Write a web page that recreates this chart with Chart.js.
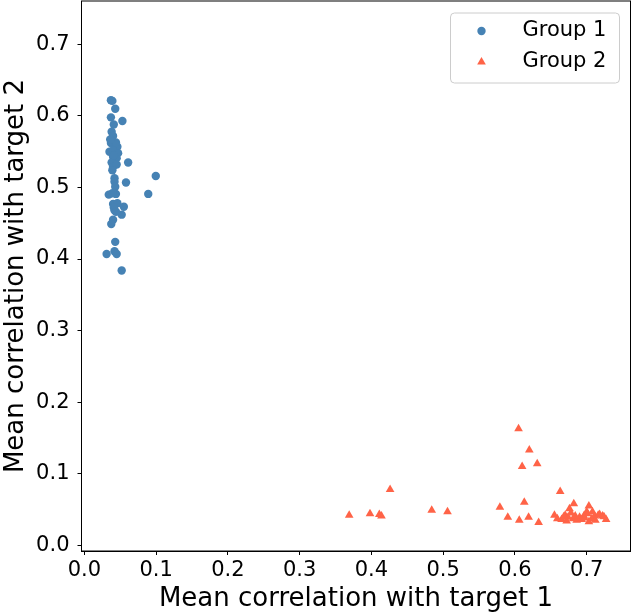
<!DOCTYPE html>
<html>
<head>
<meta charset="utf-8">
<script src="https://cdn.jsdelivr.net/npm/chart.js"></script>
<style>
  html, body { margin: 0; padding: 0; background: #fff; }
  #wrap { width: 632px; height: 615px; }
</style>
</head>
<body>
<div id="wrap"><canvas id="myChart" width="632" height="615"></canvas></div>
<script>
// series labels
var seriesNames = ['Group 1', 'Group 2'];

// Group 1 (mean correlation with target 1 / target 2)
var group1X = [0.037, 0.039, 0.043, 0.037, 0.053, 0.041, 0.038, 0.040, 0.037, 0.043,
               0.046, 0.035, 0.040, 0.040, 0.045, 0.038, 0.061, 0.040, 0.045, 0.039,
               0.042, 0.0995, 0.058, 0.042, 0.043, 0.034, 0.044, 0.089, 0.040, 0.046,
               0.055, 0.042, 0.052, 0.040, 0.0375, 0.043, 0.042, 0.031, 0.045, 0.052,
               0.047, 0.044, 0.036, 0.041, 0.039, 0.041, 0.044];
var group1Y = [0.622, 0.621, 0.610, 0.598, 0.593, 0.588, 0.578, 0.572, 0.562, 0.559,
               0.557, 0.550, 0.552, 0.543, 0.541, 0.535, 0.535, 0.529, 0.532, 0.524,
               0.513, 0.516, 0.507, 0.508, 0.501, 0.490, 0.491, 0.491, 0.477, 0.478,
               0.473, 0.468, 0.462, 0.455, 0.449, 0.424, 0.411, 0.407, 0.407, 0.384,
               0.548, 0.563, 0.567, 0.545, 0.492, 0.472, 0.466];

// Group 2
var group2X = [0.426, 0.369, 0.398, 0.411, 0.414, 0.484, 0.506,
               0.605, 0.620, 0.610, 0.631, 0.663, 0.579, 0.613, 0.590, 0.606, 0.619, 0.633, 0.655, 0.659,
               0.682, 0.676, 0.703, 0.670, 0.674, 0.665, 0.681, 0.690, 0.696, 0.701,
               0.707, 0.711, 0.716, 0.722, 0.727, 0.703, 0.686, 0.672, 0.700, 0.708,
               0.718, 0.724, 0.678, 0.693, 0.712, 0.668, 0.684, 0.697];
var group2Y = [0.078, 0.042, 0.044, 0.043, 0.041, 0.049, 0.047,
               0.163, 0.133, 0.110, 0.114, 0.075, 0.053, 0.060, 0.039, 0.035, 0.039, 0.032, 0.042, 0.037,
               0.058, 0.051, 0.055, 0.042, 0.039, 0.036, 0.037, 0.039, 0.041, 0.044,
               0.037, 0.041, 0.042, 0.041, 0.036, 0.033, 0.035, 0.034, 0.047, 0.047,
               0.043, 0.040, 0.045, 0.036, 0.035, 0.040, 0.041, 0.038];

// axis ticks
var xTicks = [0.0, 0.1, 0.2, 0.3, 0.4, 0.5, 0.6, 0.7];
var yTicks = [0.0, 0.1, 0.2, 0.3, 0.4, 0.5, 0.6, 0.7];

function toPoints(xs, ys) {
    return xs.map(function (x, i) { return { x: x, y: ys[i] }; });
}

var FONT = "'DejaVu Sans', sans-serif";

// matplotlib-like frame on all four sides
var framePlugin = {
    id: 'frame',
    afterDraw: function (chart) {
        var a = chart.chartArea, ctx = chart.ctx;
        ctx.save();
        ctx.strokeStyle = '#000';
        ctx.lineWidth = 1;
        ctx.strokeRect(a.left, a.top, a.right - a.left, a.bottom - a.top);
        ctx.restore();
    }
};

// boxed legend in the upper right corner
var legendPlugin = {
    id: 'boxLegend',
    afterDraw: function (chart) {
        var ctx = chart.ctx;
        var a = chart.chartArea;
        var w = 169, h = 70;
        var bx = a.right - 11 - w, by = a.top + 12;
        ctx.save();
        ctx.beginPath();
        if (ctx.roundRect) ctx.roundRect(bx, by, w, h, 4); else ctx.rect(bx, by, w, h);
        ctx.fillStyle = 'rgba(255,255,255,0.8)';
        ctx.fill();
        ctx.strokeStyle = '#cccccc';
        ctx.lineWidth = 1;
        ctx.stroke();
        chart.data.datasets.forEach(function (ds, i) {
            var cy = by + 18 + i * 31;
            var mx = bx + 31;
            ctx.fillStyle = ds.backgroundColor;
            ctx.strokeStyle = ds.backgroundColor;
            Chart.helpers.drawPoint(ctx, {
                pointStyle: ds.pointStyle, radius: ds.pointRadius, rotation: 0, borderWidth: 0
            }, mx, cy);
            ctx.fillStyle = '#000';
            ctx.font = '21px ' + FONT;
            ctx.textBaseline = 'middle';
            ctx.textAlign = 'left';
            ctx.fillText(ds.label, bx + 72, cy);
        });
        ctx.restore();
    }
};

function keepTicks(list) {
    return function (scale) {
        scale.ticks = list.map(function (v) { return { value: v }; });
    };
}

// fixed box size, no automatic edge padding from tick labels
function fixSize(w, h) {
    return function (s) {
        if (w !== null) s.width = w;
        if (h !== null) s.height = h;
        s.paddingTop = 0; s.paddingBottom = 0;
        s.paddingLeft = 0; s.paddingRight = 0;
    };
}

var ctx = document.getElementById('myChart').getContext('2d');
var chart = new Chart(ctx, {
    type: 'scatter',
    data: {
        datasets: [{
            label: seriesNames[0],
            data: toPoints(group1X, group1Y),
            backgroundColor: '#4682b4',
            borderColor: '#4682b4',
            borderWidth: 0,
            pointStyle: 'circle',
            pointRadius: 4.2
        }, {
            label: seriesNames[1],
            data: toPoints(group2X, group2Y),
            backgroundColor: '#ff6347',
            borderColor: '#ff6347',
            borderWidth: 0,
            pointStyle: 'triangle',
            pointRadius: 5
        }]
    },
    options: {
        responsive: false,
        animation: false,
        devicePixelRatio: 1,
        layout: { autoPadding: false, padding: { top: 1, right: 1.5, left: 0, bottom: 0 } },
        plugins: {
            legend: { display: false },
            tooltip: { enabled: false }
        },
        scales: {
            x: {
                type: 'linear',
                min: -0.004,
                max: 0.761,
                afterBuildTicks: keepTicks(xTicks),
                afterFit: fixSize(null, 64),
                ticks: {
                    color: '#000',
                    font: { family: FONT, size: 21 },
                    padding: 3,
                    maxRotation: 0,
                    callback: function (v) { return v.toFixed(1); }
                },
                grid: { drawOnChartArea: false, drawTicks: true, tickLength: 4, tickColor: '#000' },
                border: { display: true, color: '#000', width: 1 },
                title: {
                    display: true,
                    text: 'Mean correlation with target 1',
                    color: '#000',
                    font: { family: FONT, size: 26 },
                    padding: { top: 0, bottom: 0 }
                }
            },
            y: {
                type: 'linear',
                min: -0.008,
                max: 0.7606,
                afterBuildTicks: keepTicks(yTicks),
                afterFit: fixSize(81.5, null),
                ticks: {
                    color: '#000',
                    font: { family: FONT, size: 21 },
                    padding: 8,
                    callback: function (v) { return v.toFixed(1); }
                },
                grid: { drawOnChartArea: false, drawTicks: true, tickLength: 4, tickColor: '#000' },
                border: { display: true, color: '#000', width: 1 },
                title: {
                    display: true,
                    text: 'Mean correlation with target 2',
                    color: '#000',
                    font: { family: FONT, size: 26 },
                    padding: { top: 1, bottom: 0 }
                }
            }
        }
    },
    plugins: [framePlugin, legendPlugin]
});
</script>
</body>
</html>
